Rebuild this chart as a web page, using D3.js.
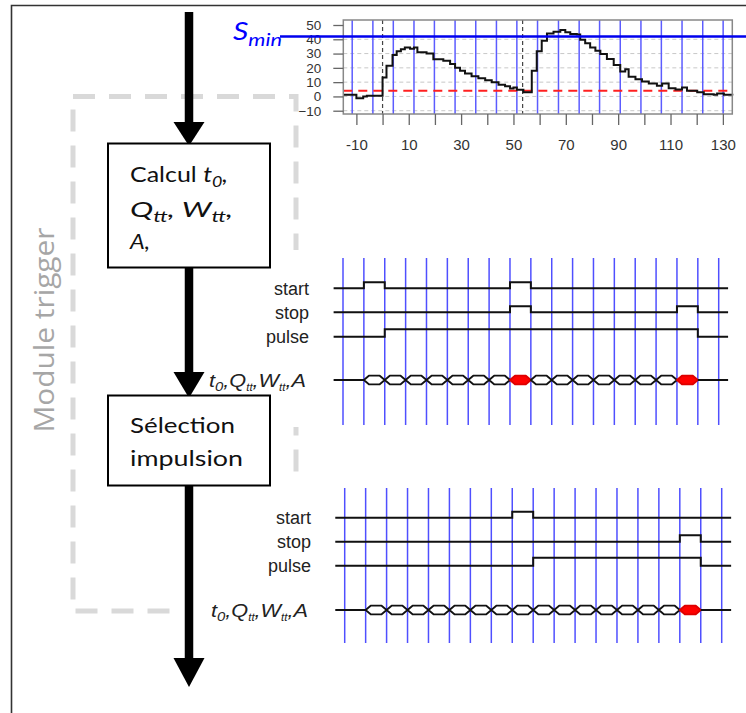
<!DOCTYPE html>
<html><head><meta charset="utf-8">
<script src="https://cdn.jsdelivr.net/npm/d3@7"></script>
<style>html,body{margin:0;padding:0;background:#fff}svg{display:block}</style>
</head><body>
<svg id="c" width="746" height="713"></svg>
<script>
// ---------- DATA ----------
// top chart: step signal (time, value)
const sigT = [-15,-10,-7.4,-6,0,1.5,3.8,5.4,7,8.5,10.5,12,13.3,16.8,19.4,23.2,25.8,27.7,29.6,31.5,34,36.6,39.2,41.7,44.3,46.8,48.7,50,51.3,53.8,57,58.9,60.8,62.8,65.3,67.9,69.8,71.7,74.2,75.5,77.4,79.3,81.3,83.2,85.7,88.3,90.8,92.7,94,96.6,99.1,101.7,104.8,106.8,109.3,111.9,114.4,116.3,120.2,122.7,126.5,127.8,130.4,133.6];
const sigV = [1.2,-1.2,0,0.5,13.3,21.5,29,31.6,33,34.3,33.4,34.3,31,30,26,25,22.7,20,18,16,14.2,12.8,11.4,10,8.2,7.2,5.6,6.2,4.7,3,18,31.6,39,44,45.3,46.5,45,43.7,43.3,39.6,37.2,34.3,32,29.7,26.2,22,17.5,19,13.8,12.1,10.5,9,7.5,9,5.8,4.9,6.3,4,3,1.6,1.2,2,1.2,0.7];
const clockTop = [-11.6,-3.7,4.1,12,19.8,27.7,35.6,43.5,51.3,59.2,67.2,75.1,82.9,90.8,98.7,106.5,114.4,122.3,130.1];
const markers = [0, 53.5];
const sMin = 42;
const threshold = 4;
const xTicks = [-10,0,10,20,30,40,50,60,70,80,90,100,110,120,130];
const xTickLabels = ["-10","","10","","30","","50","","70","","90","","110","","130"];
const yTicks = [-10,0,10,20,30,40,50];
const gridY = [-10,0,10,20,30,40];

// timing diagrams: per clock period (18 periods)
const sigNames = ["start","stop","pulse"];
const diag1 = {
  start: [0,1,0,0,0,0,0,0,1,0,0,0,0,0,0,0,0,0],
  stop:  [0,0,0,0,0,0,0,0,1,0,0,0,0,0,0,0,1,0],
  pulse: [0,0,1,1,1,1,1,1,1,1,1,1,1,1,1,1,1,0],
  bus:   [0,1,1,1,1,1,1,1,2,1,1,1,1,1,1,1,2,0]
};
const diag2 = {
  start: [0,0,0,0,0,0,0,0,1,0,0,0,0,0,0,0,0,0],
  stop:  [0,0,0,0,0,0,0,0,0,0,0,0,0,0,0,0,1,0],
  pulse: [0,0,0,0,0,0,0,0,0,1,1,1,1,1,1,1,1,0],
  bus:   [0,1,1,1,1,1,1,1,1,1,1,1,1,1,1,1,2,0]
};

// ---------- DRAW ----------
const svg = d3.select("#c");
svg.append("rect").attr("width",746).attr("height",713).attr("fill","#fff");

// frame
svg.append("path").attr("d","M11.5,713 V5.5 H746").attr("fill","none").attr("stroke","#333").attr("stroke-width",1.6);

// dashed module rect
svg.append("rect").attr("x",73).attr("y",96.5).attr("width",223).attr("height",514.5)
  .attr("fill","none").attr("stroke","#d9d9d9").attr("stroke-width",5).attr("stroke-dasharray","22,14");

// white covers (timing diagram backgrounds)
svg.append("rect").attr("x",200).attr("y",250).attr("width",546).attr("height",177).attr("fill","#fff");
svg.append("rect").attr("x",176).attr("y",476).attr("width",570).attr("height",170).attr("fill","#fff");

// "Module trigger"
svg.append("text").attr("transform","translate(54,330) rotate(-90)")
  .attr("text-anchor","middle").attr("font-family","'Open Sans', Lato, sans-serif")
  .attr("font-size",27).attr("fill","#a6a6a6")
  .attr("textLength",205).attr("lengthAdjust","spacingAndGlyphs").text("Module trigger");

// ---------- top chart ----------
const x = d3.scaleLinear().domain([-15,133.6]).range([343.3,732.3]);
const y = d3.scaleLinear().domain([-12.3,53.5]).range([114,20]);
const topG = svg.append("g");
topG.append("rect").attr("x",x(-15)).attr("y",20).attr("width",x(133.6)-x(-15)).attr("height",94).attr("fill","#fff");
topG.selectAll(".gy").data(gridY).join("line")
  .attr("x1",x(-15)).attr("x2",x(133.6)).attr("y1",d=>y(d)).attr("y2",d=>y(d))
  .attr("stroke","#c8c8c8").attr("stroke-width",1).attr("stroke-dasharray","4,3");
topG.selectAll(".ck").data(clockTop).join("line")
  .attr("x1",d=>x(d)).attr("x2",d=>x(d)).attr("y1",20).attr("y2",114)
  .attr("stroke","#5c5cff").attr("stroke-width",1.5);
topG.selectAll(".mk").data(markers).join("line")
  .attr("x1",d=>x(d)).attr("x2",d=>x(d)).attr("y1",20).attr("y2",114)
  .attr("stroke","#444").attr("stroke-width",1.2).attr("stroke-dasharray","4,3");
topG.append("line").attr("x1",x(-15)).attr("x2",x(133.6)).attr("y1",y(threshold)).attr("y2",y(threshold))
  .attr("stroke","#ff2020").attr("stroke-width",2).attr("stroke-dasharray","9,6");
const pts = sigT.map((t,i)=>[t,sigV[i]]);
topG.append("path").datum(pts)
  .attr("d",d3.line().x(d=>x(d[0])).y(d=>y(d[1])).curve(d3.curveStepAfter))
  .attr("fill","none").attr("stroke","#111").attr("stroke-width",2);
topG.append("rect").attr("x",x(-15)).attr("y",20).attr("width",x(133.6)-x(-15)).attr("height",94)
  .attr("fill","none").attr("stroke","#888").attr("stroke-width",1.5);
// axes
const xa = topG.append("g").attr("transform","translate(0,114)")
  .call(d3.axisBottom(x).tickValues(xTicks).tickFormat((d,i)=>xTickLabels[i]).tickSize(11).tickPadding(14));
const ya = topG.append("g").attr("transform","translate(343.3,0)")
  .call(d3.axisLeft(y).tickValues(yTicks).tickSize(10).tickPadding(12));
[xa,ya].forEach(a=>{
  a.select(".domain").remove();
  a.selectAll("line").attr("stroke","#666").attr("stroke-width",1.3);
  a.selectAll("text").attr("font-family","'Liberation Sans', Arial, sans-serif").attr("fill","#333");
});
xa.selectAll("text").attr("font-size",15);
ya.selectAll("text").attr("font-size",13.5);
// Smin line and label
topG.append("line").attr("x1",280).attr("x2",746).attr("y1",y(sMin)).attr("y2",y(sMin))
  .attr("stroke","#0000ee").attr("stroke-width",2.5);
const sm = topG.append("text").attr("x",233).attr("y",40).attr("fill","#0000ff")
  .attr("font-family","Lato, 'Open Sans', sans-serif").attr("font-style","italic")
  .attr("textLength",49).attr("lengthAdjust","spacingAndGlyphs");
sm.append("tspan").attr("font-size",25).text("S");
sm.append("tspan").attr("font-size",18).attr("dy",6).text("min");

// ---------- timing diagrams ----------
function busLabel(g, xl, yb){
  const t = g.append("text").attr("x",xl).attr("y",yb)
    .attr("font-family","'Liberation Sans', Arial, sans-serif").attr("font-style","italic")
    .attr("font-size",19).attr("fill","#222")
    .attr("textLength",97).attr("lengthAdjust","spacingAndGlyphs");
  const parts = [["t",0,19],["0",1,13],[",",0,19],["Q",0,19],["tt",1,10],[",",0,19],["W",0,19],["tt",1,10],[",",0,19],["A",0,19]];
  let sub = 0;
  parts.forEach(([s,isSub,fs])=>{
    const dy = isSub && !sub ? 4 : (!isSub && sub ? -4 : 0);
    sub = isSub;
    t.append("tspan").attr("font-size",fs).attr("dy",dy).text(s);
  });
}
function drawDiag(d, x0, x1, yTop, yBot, ys, hi, busY, labelX, busLX) {
  const s = d3.scaleLinear().domain([0,18]).range([x0,x1]);
  const g = svg.append("g");
  g.selectAll("line.v").data(d3.range(19)).join("line")
    .attr("x1",i=>s(i)).attr("x2",i=>s(i)).attr("y1",yTop).attr("y2",yBot)
    .attr("stroke","#4f4fff").attr("stroke-width",1.5);
  const line = d3.line().x(p=>s(p[0])).y(p=>p[1]).curve(d3.curveStepAfter);
  sigNames.forEach((n,j)=>{
    const bits = d[n];
    const p = bits.map((b,i)=>[i===0?-0.45:i, ys[j]-b*hi[j]]);
    p.push([18.45, ys[j]-bits[17]*hi[j]]);
    g.append("path").datum(p).attr("d",line).attr("fill","none").attr("stroke","#111").attr("stroke-width",2);
    g.append("text").attr("x",labelX).attr("y",ys[j]+6.5).attr("text-anchor","end")
      .attr("font-family","'Liberation Sans', Arial, sans-serif").attr("font-size",18).attr("fill","#222").text(n);
  });
  // bus
  d.bus.forEach((b,i)=>{
    const a = i===0 ? s(-0.45) : s(i), e = i===17 ? s(18.45) : s(i+1);
    if(b===0){
      g.append("line").attr("x1",a).attr("x2",e).attr("y1",busY).attr("y2",busY).attr("stroke","#111").attr("stroke-width",2);
    } else {
      const tp = 5, h = 4.3;
      g.append("path").attr("d",`M${a},${busY} L${a+tp},${busY-h} L${e-tp},${busY-h} L${e},${busY} L${e-tp},${busY+h} L${a+tp},${busY+h} Z`)
        .attr("fill",b===2?"#ff0000":"#fff").attr("stroke",b===2?"#d00":"#111").attr("stroke-width",1.8)
        .attr("stroke-linejoin","round");
    }
  });
  busLabel(g, busLX, busY+6.5);
}
drawDiag(diag1, 343, 718.7, 258, 425, [288.3,312.3,336.7], [6,6,7.4], 380, 309, 209);
drawDiag(diag2, 344.7, 721.7, 488, 643, [517.7,541.7,565.7], [6,6.5,8], 610, 311, 211);

// ---------- flowchart ----------
const arrowX = 189;
[[12,122,146],[268,372,398],[485,658,687]].forEach(([y0,yh,tip])=>{
  svg.append("line").attr("x1",arrowX).attr("x2",arrowX).attr("y1",y0).attr("y2",yh+2)
    .attr("stroke","#000").attr("stroke-width",8.5);
  svg.append("path").attr("d",`M${arrowX-15.5},${yh} L${arrowX+15.5},${yh} L${arrowX},${tip} Z`).attr("fill","#000");
});
[[108,143.5,162,124],[108,395.5,162,90]].forEach(([bx,by,bw,bh])=>{
  svg.append("rect").attr("x",bx).attr("y",by).attr("width",bw).attr("height",bh)
    .attr("fill","#fff").attr("stroke","#000").attr("stroke-width",2);
});
function boxLine(yb, len, parts){
  const t = svg.append("text").attr("x",130).attr("y",yb)
    .attr("font-family","Lato, 'Open Sans', sans-serif").attr("font-size",21).attr("fill","#111")
    .attr("textLength",len).attr("lengthAdjust","spacingAndGlyphs");
  let sub=0;
  parts.forEach(([s,isSub,it])=>{
    const dy = isSub && !sub ? 5 : (!isSub && sub ? -5 : 0);
    sub = isSub;
    t.append("tspan").attr("font-size",isSub?15:21).attr("font-style",it?"italic":"normal").attr("dy",dy).text(s);
  });
}
boxLine(182, 98, [["Calcul ",0,0],["t",0,1],["0",1,1],[",",0,1]]);
boxLine(217, 103, [["Q",0,1],["tt",1,1],[", ",0,1],["W",0,1],["tt",1,1],[",",0,1]]);
boxLine(249, 20, [["A,",0,1]]);
boxLine(433, 105, [["Sélection",0,0]]);
boxLine(466, 113, [["impulsion",0,0]]);
</script>
</body></html>
